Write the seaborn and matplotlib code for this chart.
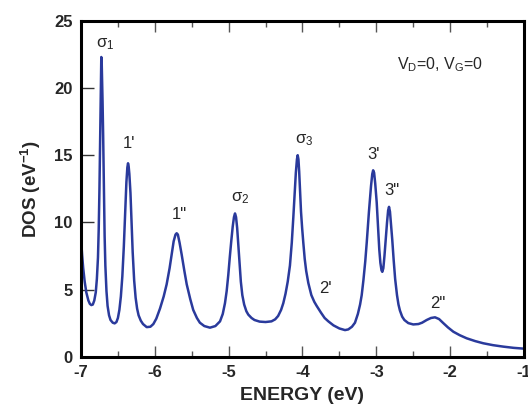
import matplotlib
matplotlib.use("Agg")
import matplotlib.pyplot as plt
import seaborn as sns
import pandas as pd
from matplotlib.ticker import MultipleLocator

energy = [-7.00, -6.985, -6.97, -6.95, -6.928, -6.90, -6.88, -6.86, -6.84, -6.82, -6.80,
          -6.785, -6.77, -6.76, -6.75, -6.742, -6.735, -6.73, -6.725, -6.72, -6.714, -6.708,
          -6.70, -6.69, -6.68, -6.67, -6.655, -6.64, -6.62, -6.60, -6.57, -6.544, -6.52,
          -6.50, -6.48, -6.46, -6.44, -6.42, -6.40, -6.385, -6.372, -6.363, -6.355, -6.345,
          -6.33, -6.315, -6.30, -6.28, -6.26, -6.24, -6.22, -6.19, -6.16, -6.11, -6.06,
          -6.02, -5.98, -5.93, -5.88, -5.84, -5.80, -5.77, -5.745, -5.72, -5.704, -5.688,
          -5.665, -5.636, -5.60, -5.568, -5.52, -5.48, -5.43, -5.39, -5.33, -5.253, -5.18,
          -5.117, -5.08, -5.05, -5.027, -5.005, -4.985, -4.965, -4.945, -4.928, -4.914,
          -4.90, -4.885, -4.869, -4.85, -4.835, -4.815, -4.79, -4.76, -4.734, -4.69, -4.65,
          -4.58, -4.50, -4.42, -4.37, -4.33, -4.29, -4.26, -4.23, -4.20, -4.17, -4.145,
          -4.124, -4.105, -4.09, -4.075, -4.065, -4.055, -4.045, -4.034, -4.02, -4.005,
          -3.989, -3.97, -3.95, -3.921, -3.88, -3.84, -3.808, -3.75, -3.70, -3.65, -3.58,
          -3.50, -3.424, -3.38, -3.33, -3.289, -3.25, -3.22, -3.198, -3.175, -3.15, -3.13,
          -3.10, -3.072, -3.055, -3.043, -3.03, -3.015, -2.995, -2.975, -2.96, -2.945,
          -2.93, -2.919, -2.905, -2.89, -2.873, -2.855, -2.84, -2.828, -2.815, -2.80,
          -2.784, -2.765, -2.745, -2.72, -2.70, -2.68, -2.65, -2.62, -2.567, -2.50, -2.43,
          -2.38, -2.318, -2.26, -2.205, -2.15, -2.093, -2.03, -1.957, -1.87, -1.776, -1.66,
          -1.551, -1.42, -1.28, -1.14, -1.00]
dos = [8.85, 7.6, 6.6, 5.6, 4.8, 4.2, 3.95, 3.86, 3.9, 4.2, 4.8,
       5.8, 7.4, 9.5, 12.5, 15.5, 18.5, 20.5, 22.3, 22.0, 20.5, 19.0,
       16.5, 12.5, 9.0, 6.8, 4.9, 3.8, 3.1, 2.75, 2.55, 2.5, 2.6,
       2.9, 3.5, 4.5, 6.0, 8.2, 11.0, 13.0, 14.1, 14.4, 14.2, 13.6,
       12.2, 10.0, 7.8, 5.7, 4.4, 3.6, 3.1, 2.7, 2.45, 2.22, 2.25,
       2.45, 2.85, 3.6, 4.5, 5.4, 6.6, 7.7, 8.6, 9.1, 9.2, 9.1,
       8.5, 7.6, 6.4, 5.4, 4.3, 3.5, 2.9, 2.55, 2.3, 2.18, 2.3,
       2.65, 3.2, 4.0, 4.9, 6.1, 7.4, 8.6, 9.7, 10.4, 10.67,
       10.4, 9.6, 8.3, 6.8, 5.6, 4.6, 3.9, 3.4, 3.15, 2.9, 2.75,
       2.63, 2.6, 2.65, 2.8, 3.05, 3.5, 4.0, 4.7, 5.6, 6.8, 8.5,
       10.4, 12.3, 13.7, 14.7, 15.0, 14.7, 13.8, 12.5, 10.8, 9.6,
       8.5, 7.3, 6.4, 5.5, 4.6, 4.1, 3.8, 3.3, 2.9, 2.65, 2.35,
       2.12, 2.0, 2.05, 2.25, 2.55, 3.2, 3.9, 4.6, 5.7, 7.1, 8.5,
       10.8, 12.7, 13.6, 13.88, 13.7, 12.9, 11.5, 9.5, 8.0, 7.0,
       6.45, 6.33, 6.6, 7.5, 8.7, 10.0, 10.9, 11.16, 10.8, 9.8,
       8.7, 7.2, 5.8, 4.6, 3.9, 3.45, 3.0, 2.75, 2.52, 2.42, 2.45,
       2.55, 2.75, 2.9, 2.95, 2.82, 2.52, 2.2, 1.88, 1.62, 1.39, 1.18,
       1.02, 0.88, 0.77, 0.68, 0.62]

x_ticks = [-7, -6, -5, -4, -3, -2, -1]
y_ticks = [0, 5, 10, 15, 20, 25]

peak_labels = [r"$\sigma_1$", "1'", '1"', r"$\sigma_2$", r"$\sigma_3$", "2'", "3'", '3"', '2"']
label_x = [-6.675, -6.35, -5.673, -4.846, -3.98, -3.695, -3.032, -2.788, -2.165]
label_y = [23.24, 15.89, 10.62, 11.8, 16.11, 5.12, 15.07, 12.4, 4.0]

sns.set_style("ticks")
plt.rcParams["font.family"] = ["Liberation Sans", "DejaVu Sans"]
plt.rcParams["mathtext.default"] = "regular"

df = pd.DataFrame({"ENERGY": energy, "DOS": dos})

fig = plt.figure(figsize=(5.28, 4.13), dpi=100)
ax = fig.add_axes([0.1534, 0.1356, 0.839, 0.8143])
sns.lineplot(data=df, x="ENERGY", y="DOS", ax=ax, color="#2a3a9c", linewidth=1.8)

ax.set_xlim(-7, -1)
ax.set_ylim(0, 25)
ax.set_xticks(x_ticks)
ax.set_yticks(y_ticks)
ax.xaxis.set_minor_locator(MultipleLocator(0.5))
ax.set_xticklabels([str(t) for t in x_ticks], fontweight="bold", fontsize=12)
ax.set_yticklabels([str(t) for t in y_ticks], fontweight="bold", fontsize=12)
ax.tick_params(axis="x", which="major", direction="in", length=8, width=1.0,
               top=True, bottom=True, pad=6, color="#555555")
ax.tick_params(axis="x", which="minor", direction="in", length=4, width=1.0,
               top=True, bottom=True, color="#555555")
ax.tick_params(axis="y", which="major", direction="in", length=9, width=1.0,
               left=True, right=False, pad=6, color="#333333")
for s in ax.spines.values():
    s.set_linewidth(2.2)
    s.set_color("black")
    s.set_visible(True)

ax.set_xlabel("ENERGY (eV)", fontsize=14, fontweight="bold", labelpad=5)
ax.set_ylabel(r"DOS (eV$^{-1}$)", fontsize=13.5, fontweight="bold")
ax.yaxis.label.set_va("center")
ax.yaxis.set_label_coords(-0.113, 0.5)

for t, xx, yy in zip(peak_labels, label_x, label_y):
    ax.text(xx, yy, t, ha="center", va="center", fontsize=12)

ax.text(-2.72, 21.7, r"V$_D$=0, V$_G$=0", ha="left", va="center", fontsize=11.5)

fig.savefig("out.png", dpi=100)
